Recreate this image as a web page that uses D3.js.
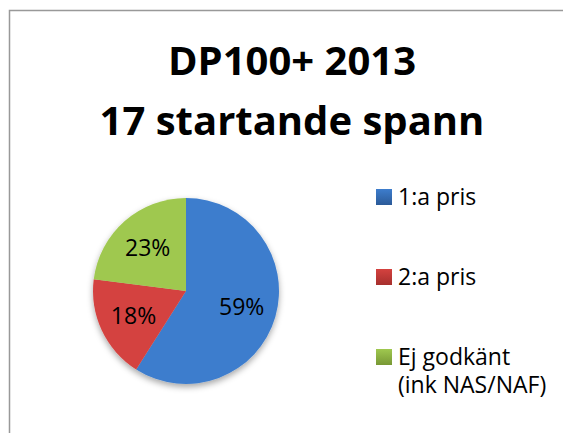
<!DOCTYPE html>
<html>
<head>
<meta charset="utf-8">
<script src="https://cdn.jsdelivr.net/npm/d3@7"></script>
<style>
  body { margin: 0; background: #fff; }
  svg { display: block; font-family: 'Open Sans', sans-serif; }
</style>
</head>
<body>
<div id="chart"></div>
<script>
// chart data
const titleLines = ['DP100+ 2013', '17 startande spann'];
const categories = ['1:a pris', '2:a pris', 'Ej godkänt (ink NAS/NAF)'];
const legendLines = [['1:a pris'], ['2:a pris'], ['Ej godkänt', '(ink NAS/NAF)']];
const shares = [59, 18, 23];

const W = 563, H = 433;
const cx = 186, cy = 291, r = 93;

//gradient stops for each slice (top colour, bottom colour)
const fills = [
	['#3d7dcd', '#2b5a98'],
	['#d4423f', '#a62f2d'],
	['#9fc84f', '#789835']
];

const svg = d3.select('#chart')
	.append('svg')
	.attr('width', W).attr('height', H);

const defs = svg.append('defs');

fills.forEach(function(f, i){
	const g = defs.append('linearGradient')
		.attr('id', 'grad' + i)
		.attr('gradientUnits', 'userSpaceOnUse')
		.attr('x1', 0).attr('y1', cy - r)
		.attr('x2', 0).attr('y2', cy + r);
	g.append('stop').attr('offset', '0%').attr('stop-color', f[0]);
	g.append('stop').attr('offset', '100%').attr('stop-color', f[1]);

	const k = defs.append('linearGradient')
		.attr('id', 'key' + i)
		.attr('x1', 0).attr('y1', 0).attr('x2', 0).attr('y2', 1);
	k.append('stop').attr('offset', '0%').attr('stop-color', f[0]);
	k.append('stop').attr('offset', '100%').attr('stop-color', f[1]);
});

const shadow = defs.append('filter')
	.attr('id', 'shadow')
	.attr('x', '-20%').attr('y', '-20%')
	.attr('width', '140%').attr('height', '140%');
shadow.append('feDropShadow')
	.attr('dx', 0).attr('dy', 3)
	.attr('stdDeviation', 3)
	.attr('flood-color', '#000')
	.attr('flood-opacity', 0.35);

//chart area border (cropped on the right and bottom)
svg.append('rect')
	.attr('x', 9.5).attr('y', 10.5)
	.attr('width', W).attr('height', H)
	.style('fill', 'none')
	.style('stroke', '#999')
	.style('stroke-width', 1.5);

//title
svg.append('g')
	.selectAll('text')
	.data(titleLines)
	.enter()
	.append('text')
	.attr('x', 292)
	.attr('y', function(d, i){ return 75 + i * 60 })
	.attr('text-anchor', 'middle')
	.style('font-weight', 700)
	.style('font-size', '40px')
	.style('fill', '#000')
	.text(function(d){ return d });

//pie
const pie = d3.pie().sort(null).value(function(d){ return d });
const arc = d3.arc().innerRadius(0).outerRadius(r);
const labelArc = d3.arc().innerRadius(58).outerRadius(58);
const total = d3.sum(shares);

const plot = svg.append('g')
	.attr('transform', `translate(${cx}, ${cy})`);

const slices = plot.append('g')
	.style('filter', 'url(#shadow)');

slices.selectAll('path')
	.data(pie(shares))
	.enter()
	.append('path')
	.attr('d', arc)
	.style('fill', function(d, i){ return `url(#grad${i})` })
	.style('stroke', 'none');

plot.selectAll('.label')
	.data(pie(shares))
	.enter()
	.append('text')
	.attr('class', 'label')
	.attr('transform', function(d){ return `translate(${labelArc.centroid(d)})` })
	.attr('dy', '0.35em')
	.attr('text-anchor', 'middle')
	.style('font-size', '23px')
	.style('fill', '#000')
	.text(function(d){ return Math.round(d.value / total * 100) + '%' });

//legend
const scaleLegend = d3.scalePoint()
	.domain(categories)
	.range([189, 349]);

const legend = svg.append('g')
	.selectAll('g')
	.data(categories)
	.enter()
	.append('g')
	.attr('transform', function(d){ return `translate(376, ${scaleLegend(d)})` });

legend.append('rect')
	.attr('width', 16).attr('height', 16)
	.style('fill', function(d, i){ return `url(#key${i})` });

legend.append('text')
	.attr('x', 22)
	.attr('y', 16)
	.style('font-size', '23px')
	.style('fill', '#000')
	.selectAll('tspan')
	.data(function(d, i){ return legendLines[i] })
	.enter()
	.append('tspan')
	.attr('x', 22)
	.attr('dy', function(d, i){ return i === 0 ? 0 : 28 })
	.text(function(d){ return d });
</script>
</body>
</html>
